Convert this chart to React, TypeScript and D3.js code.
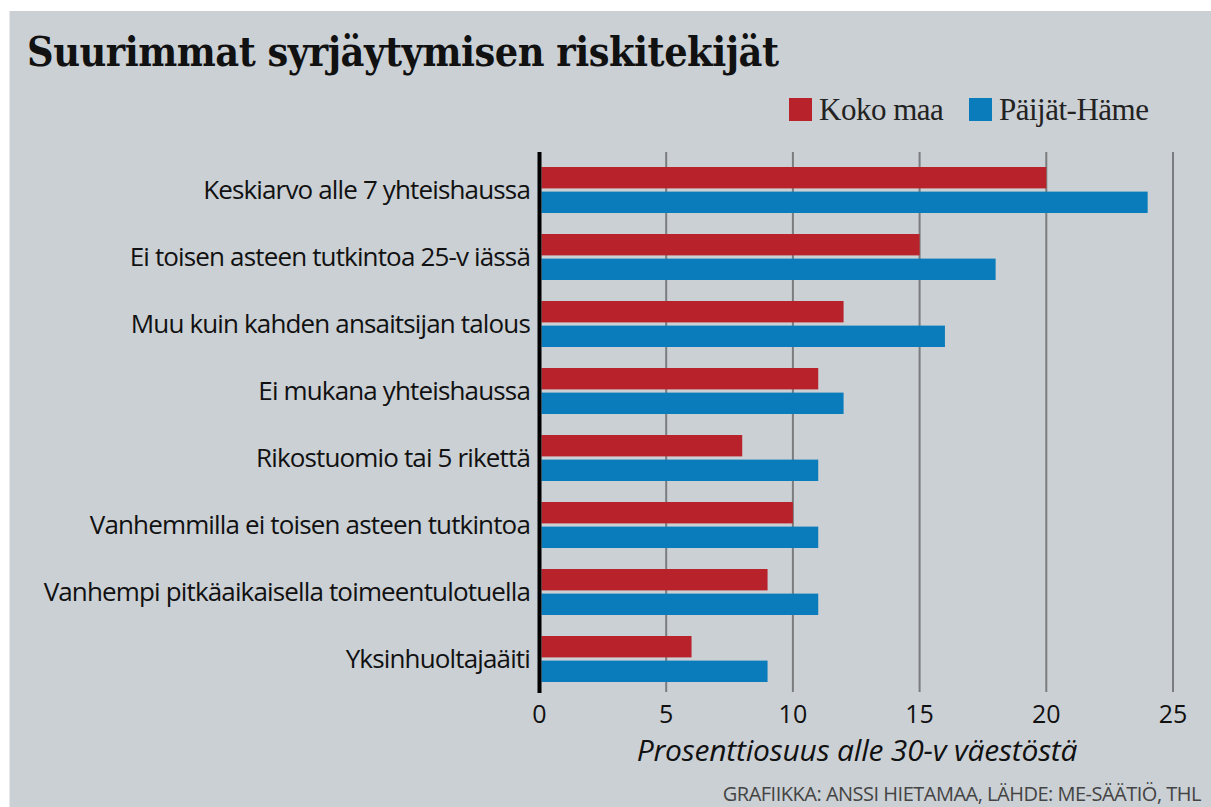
import React from "react";
import * as d3 from "d3";

const categories = [
  "Keskiarvo alle 7 yhteishaussa",
  "Ei toisen asteen tutkintoa 25-v iässä",
  "Muu kuin kahden ansaitsijan talous",
  "Ei mukana yhteishaussa",
  "Rikostuomio tai 5 rikettä",
  "Vanhemmilla ei toisen asteen tutkintoa",
  "Vanhempi pitkäaikaisella toimeentulotuella",
  "Yksinhuoltajaäiti",
];
const kokoMaa = [20, 15, 12, 11, 8, 10, 9, 6];
const paijatHame = [24, 18, 16, 12, 11, 11, 11, 9];
const seriesNames = ["Koko maa", "Päijät-Häme"];
const seriesColors = ["#b8232b", "#0a7cbb"];
const xTicks = [0, 5, 10, 15, 20, 25];

const W = 1211;
const H = 807;

export default function App() {
  const x = d3.scaleLinear().domain([0, 25]).range([539.5, 1173]);
  const y = d3.scaleBand<string>().domain(categories).range([156.5, 692.5]);
  const sub = d3.scaleBand<number>().domain([0, 1]).range([-23, 23]).paddingInner(0.13);
  const series = [kokoMaa, paijatHame];
  return (
    <svg width={W} height={H} style={{ position: "absolute", left: 0, top: 0 }}>
      <rect x={0} y={0} width={W} height={H} fill="#ffffff" />
      <rect x={9.5} y={11} width={W - 9.5} height={H - 11} fill="#cbd0d5" />
      <text x={27} y={66} fontFamily="DejaVu Serif Condensed, DejaVu Serif" fontWeight="bold" fontSize={41} fill="#111" letterSpacing={-0.5}>
        Suurimmat syrjäytymisen riskitekijät
      </text>
      {/* legend */}
      {seriesNames.map((n, i) => {
        const lx = i === 0 ? 789 : 969;
        return (
          <g key={n}>
            <rect x={lx} y={98} width={23} height={23} fill={seriesColors[i]} />
            <text x={lx + 30} y={120} fontFamily="Liberation Serif" fontSize={31} fill="#222" letterSpacing={-0.5}>
              {n}
            </text>
          </g>
        );
      })}
      {/* gridlines */}
      {xTicks.slice(1).map((t) => (
        <line key={t} x1={x(t)} x2={x(t)} y1={152} y2={692} stroke="#7a7c7e" strokeWidth={2} />
      ))}
      {/* bars */}
      {categories.map((c, ci) => {
        const cy = (y(c) as number) + y.bandwidth() / 2;
        return (
          <g key={c}>
            {series.map((s, si) => (
              <rect
                key={si}
                x={x(0) + 2}
                y={cy + (sub(si) as number)}
                width={x(s[ci]) - x(0) - 2}
                height={sub.bandwidth()}
                fill={seriesColors[si]}
              />
            ))}
            <text x={530} y={cy} dy="0.35em" textAnchor="end" fontFamily="Open Sans" fontSize={26} fill="#111" letterSpacing={-0.85}>
              {c}
            </text>
          </g>
        );
      })}
      {/* axis line */}
      <line x1={x(0)} x2={x(0)} y1={152} y2={693} stroke="#000" strokeWidth={4} />
      {/* tick labels */}
      {xTicks.map((t) => (
        <text key={t} x={x(t)} y={723} textAnchor="middle" fontFamily="Open Sans" fontSize={25} fill="#111">
          {t}
        </text>
      ))}
      <text x={857} y={761} textAnchor="middle" fontFamily="Open Sans" fontStyle="italic" fontSize={30} fill="#111" letterSpacing={-0.2}>
        Prosenttiosuus alle 30-v väestöstä
      </text>
      <text x={1201} y={801} textAnchor="end" fontFamily="Open Sans" fontSize={20} fill="#444" letterSpacing={-0.5}>
        GRAFIIKKA: ANSSI HIETAMAA, LÄHDE: ME-SÄÄTIÖ, THL
      </text>
    </svg>
  );
}
